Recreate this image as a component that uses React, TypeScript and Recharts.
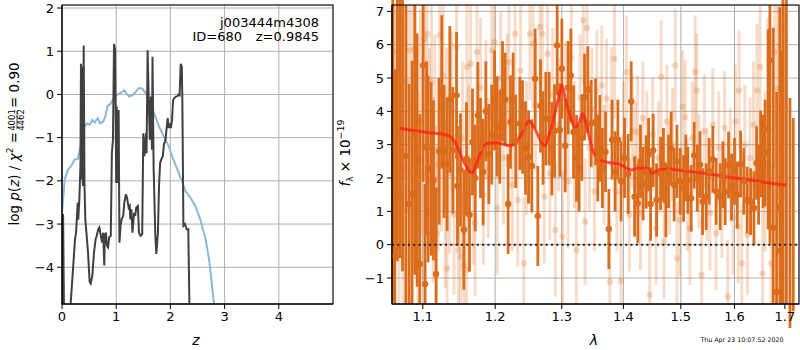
import {
  CartesianGrid,
  ComposedChart,
  ErrorBar,
  Line,
  ReferenceLine,
  Scatter,
  XAxis,
  YAxis,
} from "recharts";

const FONT = "'DejaVu Sans', sans-serif";
const ORANGE = "#da6c1c";
const ORANGE_LIGHT = "rgba(218,108,28,0.24)";
const GRID = "#b0b0b0";

const zTicks = [0, 1, 2, 3, 4];
const pzTicks = [-4, -3, -2, -1, 0, 1, 2];
const lamTicks = [1.1, 1.2, 1.3, 1.4, 1.5, 1.6, 1.7];
const fluxTicks = [-1, 0, 1, 2, 3, 4, 5, 6, 7];
const PZ_DOMAIN: [number, number] = [-4.85, 2.07];
const FLUX_DOMAIN: [number, number] = [-1.78, 7.19];

// template-fit p(z), [z, log p]
const templatePz: [number, number][] = [
  [0, -2.74], [0.05, -1.97], [0.11, -1.74], [0.17, -1.66], [0.23, -1.51], [0.29, -1.49],
  [0.35, -1.15], [0.42, -0.74], [0.46, -0.67], [0.51, -0.7], [0.56, -0.59], [0.6, -0.65],
  [0.66, -0.55], [0.7, -0.67], [0.76, -0.63], [0.8, -0.51], [0.84, -0.27], [0.9, -0.21],
  [0.97, -0.05], [1.03, 0], [1.09, 0.04], [1.15, 0.1], [1.19, 0.02], [1.24, -0.05],
  [1.3, -0.02], [1.36, 0.06], [1.42, 0.15], [1.48, 0.14], [1.55, 0.02], [1.61, -0.17],
  [1.7, -0.44], [1.79, -0.74], [1.88, -0.97], [1.97, -1.2], [2.03, -1.43], [2.13, -1.74],
  [2.21, -2.0], [2.28, -2.24], [2.37, -2.39], [2.46, -2.58], [2.55, -2.89], [2.65, -3.35],
  [2.72, -3.88], [2.8, -4.8], [2.83, -5.2],
];

// grism p(z), [z, log p]
const grismPz: [number, number][] = [
  [0.005, -5.5], [0.02, -2.77], [0.04, -5.5], [0.08, -6], [0.12, -6], [0.14, -5.2],
  [0.2, -4.1], [0.24, -3.35], [0.26, -3.2], [0.29, -2.5], [0.3, -2.9], [0.32, -2.43],
  [0.34, -1.66], [0.35, 0.71], [0.36, -1.97], [0.37, 0.64], [0.385, -2.12], [0.4, 1.13],
  [0.415, -2.12], [0.43, -2.89], [0.46, -3.35], [0.48, -3.66], [0.51, -4.34], [0.53, -4.38],
  [0.56, -4.19], [0.59, -3.66], [0.62, -3.35], [0.64, -3.27], [0.67, -3.12], [0.69, -3.08],
  [0.71, -3.23], [0.74, -3.43], [0.76, -3.2], [0.78, -3.96], [0.79, -3.27], [0.81, -3.2],
  [0.83, -3.5], [0.85, -3.54], [0.87, -3.31], [0.9, -3.27], [0.92, -1.36], [0.94, -1.05],
  [0.96, 1.17], [0.98, 1.02], [1.0, -2.05], [1.01, -0.28], [1.03, -2.05], [1.045, -0.36],
  [1.06, -3.43], [1.08, -3.04], [1.1, -2.89], [1.13, -2.81], [1.15, -2.5], [1.18, -2.31],
  [1.2, -2.39], [1.23, -2.62], [1.25, -2.58], [1.26, -2.89], [1.28, -2.66], [1.3, -3.2],
  [1.33, -2.74], [1.35, -2.81], [1.37, -2.62], [1.4, -2.58], [1.42, -3.2], [1.45, -3.27],
  [1.48, -3.23], [1.5, -0.9], [1.52, -1.43], [1.55, -0.9], [1.56, -1.36], [1.58, 1.02],
  [1.6, -0.13], [1.62, -1.05], [1.64, -0.05], [1.66, -1.28], [1.67, 0.87], [1.69, -1.66],
  [1.72, -3.2], [1.74, -3.69], [1.77, -3.2], [1.79, -2.12], [1.81, -1.59], [1.83, -1.51],
  [1.86, -1.43], [1.88, -1.16], [1.91, -1.05], [1.93, -0.78], [1.95, -0.55], [1.97, -0.78],
  [1.99, -0.67], [2.01, -0.78], [2.03, -0.59], [2.05, -0.13], [2.07, -0.09], [2.1, -0.05],
  [2.13, -0.04], [2.15, 0], [2.17, -0.02], [2.19, 0.71], [2.21, 0.64], [2.22, -0.05],
  [2.24, -3.04], [2.27, -3.0], [2.3, -3.12], [2.33, -3.12], [2.35, -4.8], [2.36, -5.5],
];

// best-fit model spectrum, [lambda, flux]
const modelFlux: [number, number][] = [
  [1.07, 3.49], [1.1004, 3.38], [1.134, 3.28], [1.1432, 3.08], [1.1546, 2.54], [1.1639, 2.19],
  [1.1677, 2.16], [1.1734, 2.44], [1.1805, 2.84], [1.1898, 3.04], [1.202, 3.06], [1.2213, 2.97],
  [1.2312, 3.08], [1.2401, 3.38], [1.25, 3.71], [1.2586, 3.48], [1.2672, 3.13], [1.2738, 2.97],
  [1.2815, 3.38], [1.2892, 3.93], [1.297, 4.58], [1.3006, 4.78], [1.3048, 4.43], [1.3127, 3.88],
  [1.3206, 3.53], [1.3274, 3.65], [1.3329, 3.93], [1.3366, 3.78], [1.3435, 3.23], [1.3511, 2.74],
  [1.3609, 2.54], [1.3773, 2.46], [1.394, 2.41], [1.4138, 2.24], [1.4251, 2.29], [1.4395, 2.29],
  [1.4499, 2.14], [1.4597, 2.24], [1.4746, 2.27], [1.4953, 2.24], [1.5287, 2.17], [1.5658, 2.09],
  [1.604, 1.99], [1.6431, 1.91], [1.6831, 1.82], [1.7033, 1.79],
];

// grism spectrum, [lambda, flux, error]
const specDark: [number, number, number][] = [
  [1.061, 7.8, 9.5], [1.0636, -0.34, 5.6], [1.0668, 8.0, 8.5], [1.07, 7.6, 8.0], [1.0735, 8.2, 9.0],
  [1.0778, 2.66, 4.8], [1.082, 1.22, 3.6], [1.0859, 1.52, 4.0], [1.0895, 3.3, 4.2], [1.0925, 2.54, 3.8],
  [1.096, -0.58, 4.5], [1.1004, 5.38, 3.5], [1.103, -1.18, 3.0], [1.105, 2.9, 2.6], [1.107, 2.27, 2.8],
  [1.111, 2.27, 2.6], [1.1142, 1.93, 2.4], [1.1177, -0.88, 2.6], [1.1218, 2.8, 2.2], [1.1254, 4.58, 2.3],
  [1.1285, 2.8, 2.0], [1.1326, 2.41, 2.0], [1.1363, 4.36, 2.2], [1.1404, 2.83, 1.9], [1.1455, 4.48, 1.9],
  [1.1468, 1.76, 1.8], [1.151, 2.24, 1.7], [1.1556, 0.45, 1.8], [1.1593, 2.57, 1.7], [1.1635, 0.89, 1.7],
  [1.1677, 3.08, 1.6], [1.1715, 2.0, 1.6], [1.1752, 3.88, 1.6], [1.179, 2.9, 1.5], [1.1827, 2.18, 1.6],
  [1.1866, 4.0, 1.5], [1.1909, 2.72, 1.5], [1.195, 3.3, 1.5], [1.1991, 4.33, 1.5], [1.2028, 3.55, 1.5],
  [1.2067, 3.23, 1.4], [1.2106, 4.6, 1.5], [1.2144, 4.36, 1.4], [1.2188, 1.22, 1.5], [1.2223, 3.68, 1.4],
  [1.2262, 4.36, 1.4], [1.23, 3.1, 1.4], [1.2361, 3.64, 1.4], [1.2401, 3.53, 1.4], [1.2445, 2.9, 1.4],
  [1.2491, 2.63, 1.4], [1.254, 2.36, 1.4], [1.259, 4.98, 1.5], [1.2631, 0.86, 1.5], [1.2672, 4.16, 1.4],
  [1.271, 3.2, 1.4], [1.2753, 3.78, 1.4], [1.2804, 3.78, 1.4], [1.2846, 2.88, 1.4], [1.2887, 3.41, 1.4],
  [1.2928, 5.98, 1.5], [1.297, 3.44, 1.4], [1.3001, 5.28, 1.5], [1.3053, 2.97, 1.4], [1.31, 4.71, 1.4],
  [1.3142, 5.08, 1.4], [1.3185, 3.38, 1.4], [1.3233, 2.59, 1.3], [1.3274, 2.29, 1.3], [1.3317, 3.21, 1.3],
  [1.3361, 4.43, 1.3], [1.3414, 4.65, 1.3], [1.3467, 3.64, 1.3], [1.3539, 3.68, 1.3], [1.3575, 2.6, 1.3],
  [1.3609, 3.19, 1.3], [1.365, 2.3, 1.2], [1.3702, 2.78, 1.2], [1.3757, 0.47, 1.2], [1.3811, 3.15, 1.2],
  [1.386, 2.2, 1.2], [1.3907, 3.15, 1.2], [1.396, 1.9, 1.2], [1.402, 2.6, 1.2], [1.408, 2.12, 1.2],
  [1.4131, 4.3, 1.2], [1.4189, 1.44, 1.2], [1.4245, 1.24, 1.2], [1.429, 2.5, 1.1], [1.4336, 1.83, 1.1],
  [1.4388, 2.18, 1.1], [1.443, 2.7, 1.1], [1.4465, 1.22, 1.1], [1.451, 2.83, 1.1], [1.4569, 1.34, 1.1],
  [1.464, 2.14, 1.1], [1.469, 2.4, 1.1], [1.4733, 1.32, 1.1], [1.478, 2.2, 1.1], [1.4827, 2.88, 1.1],
  [1.488, 1.8, 1.1], [1.493, 2.5, 1.1], [1.499, 1.9, 1.0], [1.505, 1.69, 1.0], [1.509, 2.3, 1.0],
  [1.5128, 1.93, 1.0], [1.5188, 1.39, 1.0], [1.5243, 2.68, 1.0], [1.53, 2.0, 1.0], [1.535, 2.4, 1.0],
  [1.5397, 1.29, 1.0], [1.5464, 1.44, 1.0], [1.552, 2.2, 1.0], [1.5589, 2.56, 1.0], [1.565, 1.6, 1.0],
  [1.5727, 1.44, 1.0], [1.578, 2.1, 1.0], [1.5822, 1.59, 1.0], [1.5886, 2.39, 1.0], [1.5944, 1.73, 1.0],
  [1.6, 2.2, 1.0], [1.6052, 1.49, 1.0], [1.6118, 2.42, 1.0], [1.618, 1.9, 1.0], [1.6246, 1.34, 1.0],
  [1.6313, 1.29, 1.0], [1.6378, 1.1, 1.1], [1.6431, 2.45, 1.1], [1.647, 1.8, 1.2], [1.651, 2.72, 1.3],
  [1.656, 2.5, 1.4], [1.66, 2.75, 1.6], [1.6662, 3.46, 3.0], [1.6696, 5.53, 5.5], [1.6763, 0.51, 6.0],
  [1.6831, -1.42, 6.0], [1.6898, 1.12, 6.0], [1.6913, -0.18, 6.0], [1.696, 9.0, 12], [1.703, 9.0, 12],
  [1.7103, -2.5, 6.9], [1.7171, -2.0, 5.8],
];

// contaminated / flagged spectrum pixels, [lambda, flux, error]
const specLight: [number, number, number][] = [
  [1.062, 3.0, 6.0], [1.065, 5.8, 5.0], [1.069, 1.5, 5.5], [1.0743, 2.29, 4.5], [1.079, 4.9, 4.0],
  [1.0829, 5.83, 4.0], [1.087, 3.2, 4.0], [1.0895, 5.88, 3.6], [1.0935, 1.0, 3.6], [1.097, 3.68, 3.4],
  [1.1004, 2.14, 3.2], [1.1026, 6.18, 3.2], [1.1057, 6.33, 3.0], [1.109, 2.9, 3.0], [1.1115, 4.88, 2.8],
  [1.1137, 1.64, 2.8], [1.116, 3.5, 2.8], [1.118, 0.34, 2.6], [1.1205, 2.4, 2.6], [1.1227, 6.28, 2.6],
  [1.125, 3.0, 2.6], [1.1272, 5.08, 2.5], [1.13, 1.2, 2.5], [1.1318, 3.53, 2.4], [1.1326, -0.71, 2.6],
  [1.1363, 2.14, 2.4], [1.139, 4.0, 2.4], [1.142, 0.9, 2.4], [1.1455, 5.93, 2.4], [1.148, -0.16, 2.4],
  [1.151, -0.36, 2.3], [1.154, 3.2, 2.3], [1.1556, -0.61, 2.2], [1.1593, -0.76, 2.2], [1.16, 5.33, 2.2],
  [1.162, 2.6, 2.2], [1.165, 5.43, 2.2], [1.169, 1.6, 2.2], [1.1715, 0.66, 2.2], [1.174, 5.78, 2.2],
  [1.179, 4.71, 2.1], [1.183, 1.5, 2.1], [1.1866, 4.03, 2.1], [1.19, 2.3, 2.1], [1.195, 5.83, 2.1],
  [1.1991, 6.08, 2.1], [1.203, 1.1, 2.0], [1.208, 4.98, 2.0], [1.212, 2.6, 2.0], [1.2175, 4.33, 2.0],
  [1.22, 5.48, 2.0], [1.225, 1.8, 2.0], [1.229, 6.33, 2.0], [1.233, 1.34, 2.0], [1.237, 5.23, 2.0],
  [1.242, -0.56, 2.0], [1.246, 2.9, 2.0], [1.2511, 6.33, 2.0], [1.256, 6.03, 2.0], [1.26, 4.2, 2.0],
  [1.2662, 6.53, 2.0], [1.27, 6.33, 2.0], [1.273, 1.44, 2.0], [1.278, 5.73, 2.0], [1.2815, 2.14, 2.0],
  [1.286, 4.5, 2.0], [1.29, 0.44, 2.0], [1.295, 3.6, 2.0], [1.301, 0.24, 2.0], [1.306, 4.1, 2.0],
  [1.31, 1.89, 2.0], [1.315, 5.6, 2.0], [1.32, 3.0, 1.9], [1.323, -0.16, 1.9], [1.329, 4.4, 1.9],
  [1.334, 6.73, 1.9], [1.337, 0.69, 1.9], [1.34, 6.5, 1.9], [1.344, 2.9, 1.9], [1.348, 4.1, 1.8],
  [1.352, 1.6, 1.8], [1.356, 4.63, 1.8], [1.364, 4.78, 1.8], [1.368, 2.4, 1.8], [1.372, 4.38, 1.8],
  [1.3773, -1.11, 1.8], [1.38, 4.13, 1.8], [1.385, 5.58, 1.8], [1.389, 1.6, 1.8], [1.396, -1.09, 1.8],
  [1.4, 3.2, 1.7], [1.405, 5.18, 1.7], [1.41, 0.9, 1.7], [1.415, 3.4, 1.7], [1.42, 2.6, 1.7],
  [1.424, 3.38, 1.7], [1.429, 0.94, 1.7], [1.433, 3.8, 1.7], [1.44, 2.9, 1.7], [1.445, -1.51, 1.7],
  [1.45, 3.3, 1.7], [1.456, 0.49, 1.7], [1.46, 2.6, 1.7], [1.465, 5.03, 1.7], [1.47, 0.09, 1.7],
  [1.475, 3.7, 1.7], [1.48, 2.0, 1.7], [1.485, 3.0, 1.7], [1.49, 5.38, 1.7], [1.493, -0.41, 1.7],
  [1.4983, 0.74, 1.7], [1.503, 4.13, 1.7], [1.508, 3.83, 1.7], [1.512, 1.5, 1.7], [1.5165, 0.49, 1.7],
  [1.521, 3.2, 1.7], [1.526, 5.18, 1.7], [1.529, 4.63, 1.7], [1.533, 2.2, 1.7], [1.538, -0.91, 1.7],
  [1.543, 3.4, 1.7], [1.548, 1.8, 1.7], [1.5534, 0.94, 1.7], [1.559, 3.6, 1.7], [1.565, 0.34, 1.7],
  [1.57, 2.9, 1.7], [1.576, 1.3, 1.7], [1.581, 3.5, 1.7], [1.587, -1.56, 1.7], [1.592, 2.4, 1.7],
  [1.597, 0.8, 1.7], [1.602, 3.7, 1.7], [1.607, 0.54, 1.7], [1.609, 4.63, 1.8], [1.614, -0.56, 1.8],
  [1.62, 3.0, 1.8], [1.625, 0.3, 1.8], [1.63, 2.6, 1.8], [1.637, 3.6, 1.9], [1.644, 4.63, 2.0],
  [1.65, 5.33, 2.2], [1.655, -0.86, 2.2], [1.66, 2.2, 2.4], [1.665, 4.2, 2.6], [1.672, -0.56, 3.0],
  [1.679, 5.78, 3.5], [1.685, 4.68, 4.0], [1.688, 4.23, 4.0], [1.691, 2.74, 4.5], [1.698, 6.5, 5.0],
];

const toXY = (rows: [number, number][]) => rows.map(([x, y]) => ({ x, y }));

// error bars are clipped to the visible flux range (recharts does not clip them)
const toErr = (rows: [number, number, number][]) =>
  rows.map(([x, y, err]) => ({
    x,
    y,
    err: [
      Math.max(0, Math.min(err, y - FLUX_DOMAIN[0])),
      Math.max(0, Math.min(err, FLUX_DOMAIN[1] - y)),
    ],
  }));

const tick = { fill: "#000", fontSize: 13, fontFamily: FONT };
const fmtMinus = (v: number) => (v < 0 ? `\u2212${-v}` : `${v}`);

const dot = (fill: string) => (p: any) => {
  if (p.cx == null || p.cy == null || p.payload.y > FLUX_DOMAIN[1] || p.payload.y < FLUX_DOMAIN[0]) return <g />;
  return <circle cx={p.cx} cy={p.cy} r={3.2} fill={fill} />;
};

function PzPanel() {
  return (
    <ComposedChart width={340} height={350} margin={{ top: 5, right: 7, bottom: 16, left: 22 }}>
      <CartesianGrid stroke={GRID} strokeWidth={1} />
      <XAxis
        dataKey="x"
        type="number"
        domain={[0, 5]}
        ticks={zTicks}
        allowDataOverflow
        height={30}
        tick={tick}
        tickSize={5}
        tickMargin={3}
        stroke="#000"
      />
      <YAxis
        type="number"
        domain={PZ_DOMAIN}
        ticks={pzTicks}
        allowDataOverflow
        width={40}
        tick={tick}
        tickSize={5}
        tickMargin={3}
        stroke="#000"
        tickFormatter={fmtMinus}
      />
      <Line data={toXY(templatePz)} dataKey="y" stroke="#8ab8da" strokeWidth={2} dot={false} isAnimationActive={false} />
      <Line data={toXY(grismPz)} dataKey="y" stroke="#404040" strokeWidth={2} dot={false} isAnimationActive={false} />
    </ComposedChart>
  );
}

function SpecPanel() {
  return (
    <ComposedChart width={460} height={350} margin={{ top: 5, right: 1, bottom: 16, left: 12 }}>
      <XAxis
        dataKey="x"
        type="number"
        scale="log"
        domain={[1.06, 1.729]}
        ticks={lamTicks}
        allowDataOverflow
        height={30}
        tick={tick}
        tickSize={5}
        tickMargin={3}
        stroke="#000"
      />
      <YAxis
        type="number"
        domain={FLUX_DOMAIN}
        ticks={fluxTicks}
        allowDataOverflow
        width={40}
        tick={tick}
        tickSize={5}
        tickMargin={3}
        stroke="#000"
        tickFormatter={fmtMinus}
      />
      <Scatter data={toErr(specLight)} dataKey="y" shape={dot(ORANGE_LIGHT)} isAnimationActive={false}>
        <ErrorBar dataKey="err" direction="y" width={0} stroke={ORANGE_LIGHT} strokeWidth={3} isAnimationActive={false} />
      </Scatter>
      <Scatter data={toErr(specDark)} dataKey="y" shape={dot(ORANGE)} isAnimationActive={false}>
        <ErrorBar dataKey="err" direction="y" width={0} stroke={ORANGE} strokeWidth={2.8} isAnimationActive={false} />
      </Scatter>
      <CartesianGrid stroke={GRID} strokeWidth={1} />
      <Line
        data={toXY(modelFlux)}
        dataKey="y"
        type="monotone"
        stroke="rgba(255,30,20,0.75)"
        strokeWidth={3}
        dot={false}
        isAnimationActive={false}
      />
      <ReferenceLine y={0} stroke="#222" strokeWidth={2} strokeDasharray="2 3.3" />
    </ComposedChart>
  );
}

export default function App() {
  return (
    <div style={{ position: "absolute", left: 0, top: 0, width: 800, height: 350, background: "#fff", fontFamily: FONT }}>
      <div style={{ position: "absolute", left: 0, top: 0 }}>
        <PzPanel />
      </div>
      <div style={{ position: "absolute", left: 340, top: 0 }}>
        <SpecPanel />
      </div>
      <svg width={800} height={350} style={{ position: "absolute", left: 0, top: 0, pointerEvents: "none" }} fontFamily={FONT}>
        <rect x={62} y={5} width={271} height={299} fill="none" stroke="#000" strokeWidth={1} />
        <rect x={392} y={5} width={407} height={299} fill="none" stroke="#000" strokeWidth={1} />
        <text x={319} y={27} fontSize={13} textAnchor="end">j003444m4308</text>
        <text x={242} y={41} fontSize={13} textAnchor="end">ID=680</text>
        <text x={319} y={41} fontSize={13} textAnchor="end">z=0.9845</text>
        <text x={196} y={345} fontSize={14} textAnchor="middle" fontStyle="italic">z</text>
        <text x={594} y={345} fontSize={14} textAnchor="middle" fontStyle="italic">λ</text>
        <text x={742} y={342} fontSize={6.3} textAnchor="middle">Thu Apr 23 10:07:52 2020</text>
        <g transform="translate(19,156) rotate(-90)">
          <text x={24} y={0} fontSize={13.5} textAnchor="end">
            log <tspan fontStyle="italic">p</tspan>(
            <tspan fontStyle="italic">z</tspan>) / <tspan fontStyle="italic">χ</tspan>
            <tspan fontSize={9} dy={-6}>2</tspan>
            <tspan dy={6}> =</tspan>
          </text>
          <text x={36} y={-4} fontSize={8.5} textAnchor="middle">4001</text>
          <line x1={27} x2={45} y1={-2} y2={-2} stroke="#000" strokeWidth={0.7} />
          <text x={36} y={5} fontSize={8.5} textAnchor="middle">4462</text>
          <text x={48} y={0} fontSize={13.5} textAnchor="start">= 0.90</text>
        </g>
        <g transform="translate(350,153) rotate(-90)">
          <text x={0} y={0} fontSize={13.5} textAnchor="middle">
            <tspan fontStyle="italic">f</tspan>
            <tspan fontSize={9} dy={3}>λ</tspan>
            <tspan dy={-3}> × 10</tspan>
            <tspan fontSize={9.5} dy={-6}>−19</tspan>
          </text>
        </g>
      </svg>
    </div>
  );
}
